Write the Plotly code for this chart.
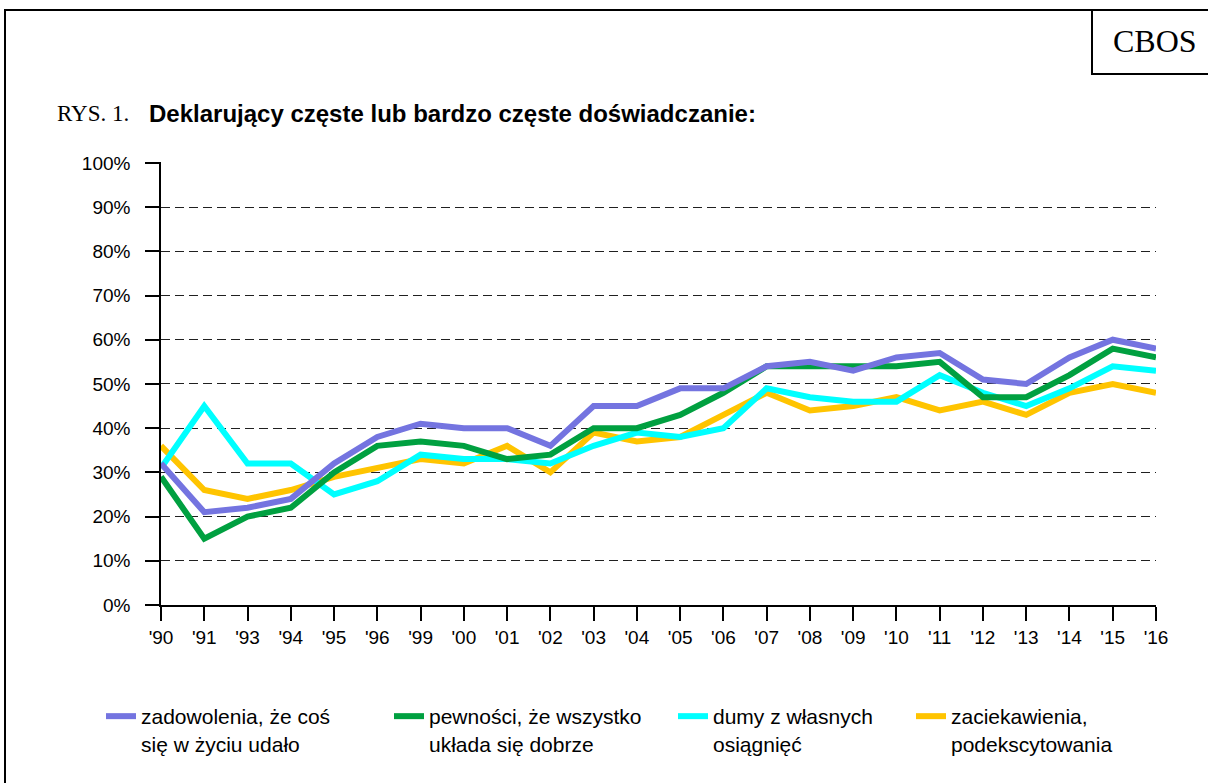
import plotly.graph_objects as go

years = ["'90", "'91", "'93", "'94", "'95", "'96", "'99", "'00", "'01", "'02", "'03", "'04",
         "'05", "'06", "'07", "'08", "'09", "'10", "'11", "'12", "'13", "'14", "'15", "'16"]

zadowolenia = [32, 21, 22, 24, 32, 38, 41, 40, 40, 36, 45, 45, 49, 49, 54, 55, 53, 56, 57, 51, 50, 56, 60, 58]
pewnosci    = [29, 15, 20, 22, 30, 36, 37, 36, 33, 34, 40, 40, 43, 48, 54, 54, 54, 54, 55, 47, 47, 52, 58, 56]
dumy        = [31, 45, 32, 32, 25, 28, 34, 33, 33, 32, 36, 39, 38, 40, 49, 47, 46, 46, 52, 48, 45, 49, 54, 53]
zaciekaw    = [36, 26, 24, 26, 29, 31, 33, 32, 36, 30, 39, 37, 38, 43, 48, 44, 45, 47, 44, 46, 43, 48, 50, 48]

names = ["zadowolenia, że coś<br>się w życiu udało",
         "pewności, że wszystko<br>układa się dobrze",
         "dumy z własnych<br>osiągnięć",
         "zaciekawienia,<br>podekscytowania"]
colors = ["#7474E0", "#00A040", "#00FFFF", "#FFC400"]
series = [zadowolenia, pewnosci, dumy, zaciekaw]
legends = ["legend", "legend2", "legend3", "legend4"]

# body margin is removed below, so figure coordinates = screen coordinates
W, H = 1208, 783
L, R, T, B = 161, 1156, 162, 605


def px(x):
    return (x - L) / (R - L)


def py(y):
    return (B - y) / (B - T)


fig = go.Figure()
# draw order: yellow, cyan, green, purple (purple on top)
for i in [3, 2, 1, 0]:
    fig.add_trace(go.Scatter(
        x=years, y=series[i], name=names[i], mode="lines",
        line=dict(color=colors[i], width=6),
        legend=legends[i], showlegend=True,
    ))

leg_x = [101, 389, 673, 911]
layout_legends = {}
for i, lg in enumerate(legends):
    layout_legends[lg] = dict(
        x=leg_x[i] / W, y=1 - 696 / H, xref="container", yref="container",
        xanchor="left", yanchor="top", valign="top",
        font=dict(family="Liberation Sans, Arial", size=21, color="black"),
        bgcolor="rgba(0,0,0,0)", borderwidth=0, itemwidth=30,
    )

fig.update_layout(
    width=W, height=H,
    margin=dict(l=L, r=W - R, t=T, b=H - B, autoexpand=False),
    paper_bgcolor="white", plot_bgcolor="white",
    font=dict(family="Liberation Sans, Arial", size=19, color="black"),
    **layout_legends,
)

fig.update_xaxes(
    type="category", range=[0, len(years) - 1],
    showline=True, linecolor="black", linewidth=1.5,
    ticks="outside", ticklen=14, tickcolor="black", tickwidth=1.5,
    showgrid=False, zeroline=False,
    tickfont=dict(size=19, family="Liberation Sans, Arial"),
)
fig.update_yaxes(
    range=[0, 100.2], tickvals=list(range(0, 101, 10)),
    ticktext=[f"{v}%" for v in range(0, 101, 10)],
    showline=True, linecolor="black", linewidth=1.5,
    ticks="outside", ticklen=14, tickcolor="black", tickwidth=1.5,
    ticklabelstandoff=11,
    showgrid=True, gridcolor="#202020", gridwidth=1, griddash="9px,5px",
    zeroline=False,
    tickfont=dict(size=19, family="Liberation Sans, Arial"),
)

# outer frame and CBOS box
fig.add_shape(type="rect", xref="paper", yref="paper",
              x0=px(5), x1=px(1225), y0=py(800), y1=py(10),
              line=dict(color="black", width=2), fillcolor="rgba(0,0,0,0)")
fig.add_shape(type="rect", xref="paper", yref="paper",
              x0=px(1092), x1=px(1225), y0=py(74), y1=py(10),
              line=dict(color="black", width=2), fillcolor="rgba(0,0,0,0)")

fig.add_annotation(text="CBOS", xref="paper", yref="paper", x=px(1155), y=py(41),
                   xanchor="center", yanchor="middle", showarrow=False,
                   font=dict(family="Liberation Serif, Times New Roman", size=32, color="black"))
fig.add_annotation(text="RYS. 1.", xref="paper", yref="paper", x=px(55), y=py(113),
                   xanchor="left", yanchor="middle", showarrow=False,
                   font=dict(family="Liberation Serif, Times New Roman", size=23, color="black"))
fig.add_annotation(text="<b>Deklarujący częste lub bardzo częste doświadczanie:</b>",
                   xref="paper", yref="paper", x=px(147), y=py(113),
                   xanchor="left", yanchor="middle", showarrow=False,
                   font=dict(family="Liberation Sans, Arial", size=24, color="black"))

fig.write_html("out.html",
               config={"displayModeBar": False},
               post_script="document.body.style.margin='0px';document.body.style.overflow='hidden';")
